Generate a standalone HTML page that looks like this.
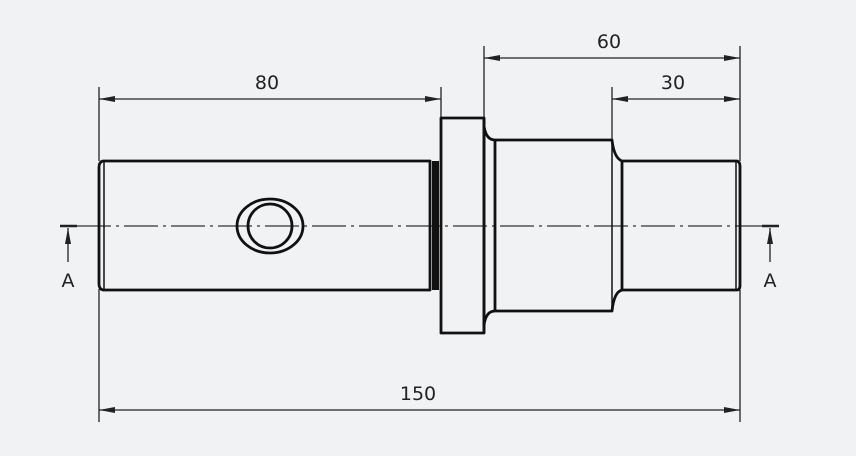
<!DOCTYPE html>
<html><head><meta charset="utf-8"><style>
html,body{margin:0;padding:0;background:#f1f2f4;}
svg{display:block}
text{font-family:"DejaVu Sans","Liberation Sans",sans-serif;font-size:19px;fill:#222;}
</style></head><body>
<svg width="856" height="456" viewBox="0 0 856 456" xmlns="http://www.w3.org/2000/svg">
<defs>
<marker id="ar" viewBox="0 0 16 6" refX="16" refY="3" markerWidth="16" markerHeight="6" orient="auto-start-reverse" markerUnits="userSpaceOnUse">
<path d="M0,0 L16,3 L0,6 Z" fill="#222"/></marker>
</defs>
<g stroke="#222" stroke-width="1.3" fill="none">
<line x1="99" y1="87" x2="99" y2="161"/>
<line x1="441" y1="87" x2="441" y2="118"/>
<line x1="484" y1="46" x2="484" y2="118"/>
<line x1="740" y1="46" x2="740" y2="161"/>
<line x1="612" y1="87" x2="612" y2="140"/>
<line x1="99" y1="289" x2="99" y2="422"/>
<line x1="740" y1="290" x2="740" y2="422"/>
<line x1="99" y1="99" x2="441" y2="99" marker-start="url(#ar)" marker-end="url(#ar)"/>
<line x1="484" y1="58" x2="740" y2="58" marker-start="url(#ar)" marker-end="url(#ar)"/>
<line x1="612" y1="99" x2="740" y2="99" marker-start="url(#ar)" marker-end="url(#ar)"/>
<line x1="99" y1="410" x2="740" y2="410" marker-start="url(#ar)" marker-end="url(#ar)"/>
<line x1="68" y1="262" x2="68" y2="228" marker-end="url(#ar)"/>
<line x1="770" y1="262" x2="770" y2="228" marker-end="url(#ar)"/>
</g>
<line x1="60" y1="226" x2="77" y2="226" stroke="#222" stroke-width="2.5"/>
<line x1="762" y1="226" x2="779" y2="226" stroke="#222" stroke-width="2.5"/>
<line x1="77" y1="226" x2="762" y2="226" stroke="#333" stroke-width="1.3" stroke-dasharray="34,5,3,5"/>
<g stroke="#111" stroke-width="2.8" fill="none" stroke-linejoin="round">
<path d="M103,161 L430,161 L430,290 L103,290 Q99,289 99,284 L99,167 Q99,162 103,161 Z"/>
<line x1="104" y1="162" x2="104" y2="289" stroke-width="1.5"/>
<rect x="441" y="118" width="43" height="215"/>
<path d="M484,118 L484,126 Q486,140 495,140 L612,140 Q614,158 622,161 L737,161 Q740,162 740,166 L740,285 Q740,290 737,290 L622,290 Q614,292 612,311 L495,311 Q486,311 484,325"/>
<line x1="495" y1="140" x2="495" y2="311"/>
<line x1="612" y1="140" x2="612" y2="311" stroke-width="1.5"/>
<line x1="622" y1="161" x2="622" y2="290"/>
<line x1="736" y1="162" x2="736" y2="289" stroke-width="1.5"/>
<line x1="484" y1="118" x2="484" y2="333"/>
<ellipse cx="270" cy="226" rx="33" ry="27"/>
<circle cx="270" cy="226" r="22"/>
</g>
<rect x="432" y="161" width="7" height="129" fill="#111"/>
<text x="267" y="89" text-anchor="middle">80</text>
<text x="609" y="48" text-anchor="middle">60</text>
<text x="673" y="89" text-anchor="middle">30</text>
<text x="418" y="400" text-anchor="middle">150</text>
<text x="68" y="287" text-anchor="middle">A</text>
<text x="770" y="287" text-anchor="middle">A</text>
</svg>
</body></html>
